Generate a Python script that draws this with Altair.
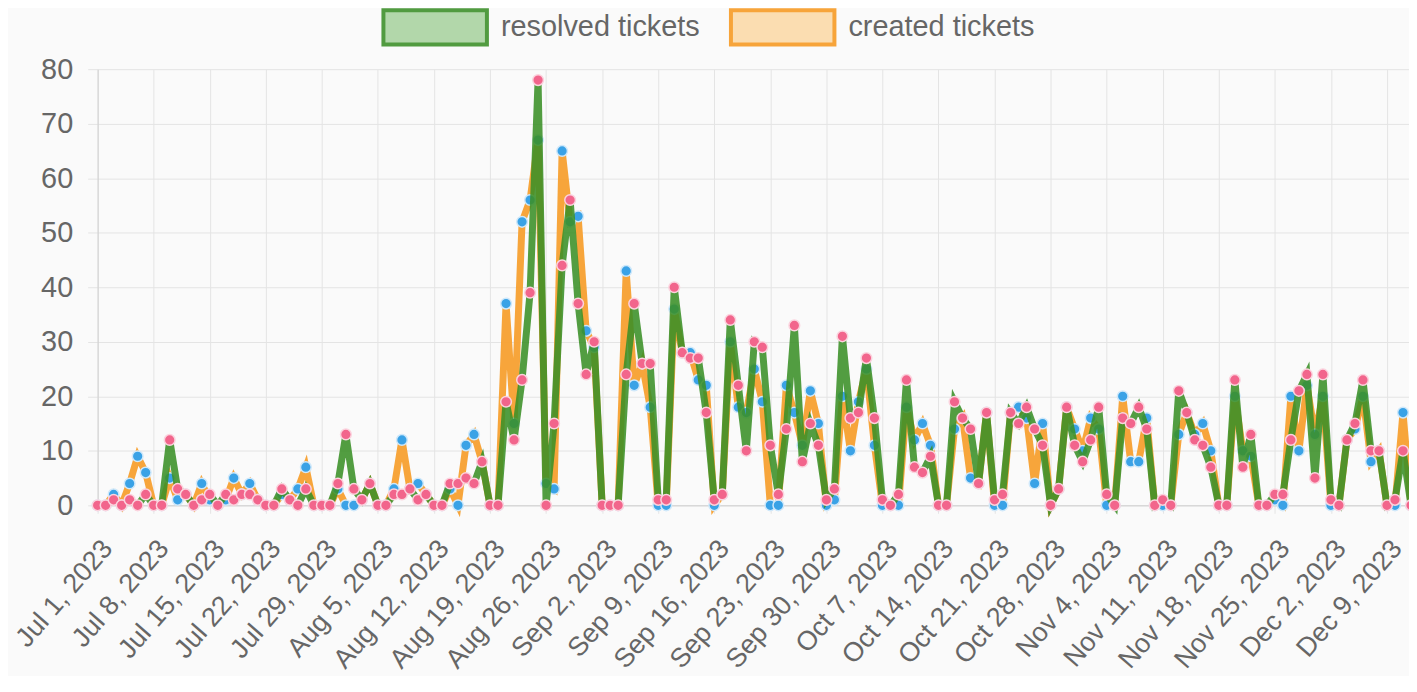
import altair as alt
import pandas as pd

# ---- data ----
start_date = "2023-07-01"
series_names = ["resolved tickets", "created tickets"]

resolved = [
    0, 0, 1, 0, 1, 0, 2, 0, 0, 12,
    3, 2, 0, 1, 2, 0, 2, 1, 2, 2,
    1, 0, 0, 3, 1, 0, 3, 0, 0, 0,
    4, 13, 3, 1, 4, 0, 0, 2, 2, 3,
    1, 2, 0, 0, 4, 4, 5, 4, 8, 0,
    0, 19, 12, 23, 39, 78, 0, 15, 44, 56,
    37, 24, 30, 0, 0, 0, 24, 37, 26, 26,
    1, 1, 40, 28, 27, 27, 17, 1, 2, 34,
    22, 10, 30, 29, 11, 2, 14, 33, 8, 15,
    11, 1, 3, 31, 16, 17, 27, 16, 1, 0,
    2, 23, 7, 6, 9, 0, 0, 19, 16, 14,
    4, 17, 1, 2, 17, 15, 18, 14, 11, 0,
    3, 18, 11, 8, 12, 18, 2, 0, 16, 15,
    18, 14, 0, 1, 0, 21, 17, 12, 11, 7,
    0, 0, 23, 7, 13, 0, 0, 2, 2, 12,
    21, 24, 5, 24, 1, 0, 12, 15, 23, 10,
    10, 0, 1, 10, 0,
]

created = [
    0, 0, 2, 0, 4, 9, 6, 0, 0, 5,
    1, 2, 0, 4, 1, 0, 1, 5, 2, 4,
    1, 0, 0, 2, 1, 3, 7, 0, 0, 0,
    3, 0, 0, 1, 4, 0, 0, 3, 12, 3,
    4, 2, 0, 0, 3, 0, 11, 13, 8, 0,
    0, 37, 15, 52, 56, 67, 4, 3, 65, 52,
    53, 32, 29, 0, 0, 0, 43, 22, 26, 18,
    0, 0, 36, 28, 28, 23, 22, 0, 2, 30,
    18, 17, 25, 19, 0, 0, 22, 17, 11, 21,
    15, 0, 1, 20, 10, 19, 25, 11, 0, 0,
    0, 18, 12, 15, 11, 0, 0, 14, 16, 5,
    4, 17, 0, 0, 17, 18, 16, 4, 15, 0,
    3, 18, 14, 10, 16, 14, 0, 0, 20, 8,
    8, 16, 0, 0, 0, 13, 17, 13, 15, 10,
    0, 0, 20, 10, 9, 0, 0, 1, 0, 20,
    10, 22, 13, 20, 0, 0, 12, 14, 20, 8,
    10, 0, 0, 17, 0,
]

tick_dates = [
    (2023, 7, 1), (2023, 7, 8), (2023, 7, 15), (2023, 7, 22), (2023, 7, 29),
    (2023, 8, 5), (2023, 8, 12), (2023, 8, 19), (2023, 8, 26), (2023, 9, 2),
    (2023, 9, 9), (2023, 9, 16), (2023, 9, 23), (2023, 9, 30), (2023, 10, 7),
    (2023, 10, 14), (2023, 10, 21), (2023, 10, 28), (2023, 11, 4), (2023, 11, 11),
    (2023, 11, 18), (2023, 11, 25), (2023, 12, 2), (2023, 12, 9),
]
y_ticks = [0, 10, 20, 30, 40, 50, 60, 70, 80]

# ---- styling ----
GREEN = "#3a8f27"
GREEN_FILL = "#a9d3a0"
ORANGE = "#f7a030"
ORANGE_FILL = "#fcdcae"
PINK = "#f2658c"
BLUE = "#3aa2e6"
TEXT = "#666666"
GRID = "#e4e4e4"
FONT = "Liberation Sans"

dates = pd.date_range(start_date, periods=len(resolved), freq="D").strftime("%Y-%m-%d")
df = pd.DataFrame({
    "date": list(dates) * 2,
    "series": [series_names[0]] * len(resolved) + [series_names[1]] * len(created),
    "count": resolved + created,
})

x_enc = alt.X(
    "date:T",
    scale=alt.Scale(
        type="utc",
        domain=[alt.DateTime(year=2023, month=7, date=1, utc=True),
                alt.DateTime(year=2023, month=12, date=11, hours=18, utc=True)],
    ),
    axis=alt.Axis(
        title=None,
        values=[alt.DateTime(year=y, month=m, date=d, utc=True) for (y, m, d) in tick_dates],
        labelExpr="utcFormat(datum.value, '%b %-d, %Y')",
        labelAngle=-49,
        labelAlign="right",
        labelBaseline="top",
        labelOffset=0,
        labelFontSize=27,
        labelFont=FONT,
        labelColor=TEXT,
        labelPadding=22,
        labelOverlap=False,
        labelFlush=False,
        labelBound=False,
        labelLimit=400,
        tickSize=8,
        tickColor=GRID,
        grid=True,
        gridColor=GRID,
        domainColor="#d0d0d0",
    ),
)
y_enc = alt.Y(
    "count:Q",
    scale=alt.Scale(domain=[0, 80], nice=False, zero=True),
    axis=alt.Axis(
        title=None,
        values=y_ticks,
        labelFontSize=29,
        labelFont=FONT,
        labelColor=TEXT,
        labelPadding=15,
        tickSize=10,
        tickColor=GRID,
        grid=True,
        gridColor=GRID,
        domainColor="#d0d0d0",
    ),
)


def legend_for(x_pos, fill):
    return alt.Legend(
        title=None,
        orient="none",
        direction="horizontal",
        legendX=x_pos,
        legendY=-96,
        symbolType="M-1,-0.33H1V0.33H-1Z",
        symbolSize=10800,
        symbolStrokeWidth=4,
        symbolFillColor=fill,
        labelFontSize=29,
        labelFont=FONT,
        labelColor=TEXT,
        labelOffset=12,
        labelLimit=400,
        padding=0,
    )


base = alt.Chart(df)

created_line = base.transform_filter(alt.datum.series == series_names[1]).mark_line(
    strokeWidth=7, opacity=0.95
).encode(
    x=x_enc, y=y_enc,
    color=alt.Color("series:N", scale=alt.Scale(domain=[series_names[1]], range=[ORANGE]),
                    legend=legend_for(634, ORANGE_FILL)),
)

created_pts = base.transform_filter(alt.datum.series == series_names[1]).mark_point(
    filled=True, size=115, fill=BLUE, stroke="#cfe8fa", strokeWidth=1.5, opacity=1
).encode(x=x_enc, y=y_enc)

resolved_line = base.transform_filter(alt.datum.series == series_names[0]).mark_line(
    strokeWidth=7, opacity=0.88
).encode(
    x=x_enc, y=y_enc,
    color=alt.Color("series:N", scale=alt.Scale(domain=[series_names[0]], range=[GREEN]),
                    legend=legend_for(285, GREEN_FILL)),
)

resolved_pts = base.transform_filter(alt.datum.series == series_names[0]).mark_point(
    filled=True, size=115, fill=PINK, stroke="#fbd3de", strokeWidth=1.5, opacity=1
).encode(x=x_enc, y=y_enc)

chart = alt.layer(created_line, created_pts, resolved_line, resolved_pts).resolve_scale(
    color="independent"
).properties(
    width=1317,
    height=438,
    autosize=alt.AutoSizeParams(type="none"),
    padding={"left": 90, "top": 60, "right": 0, "bottom": 170},
    background="#fafafa",
).configure_view(stroke=None)

chart.save("out.html", embed_options={"renderer": "svg", "actions": False})
